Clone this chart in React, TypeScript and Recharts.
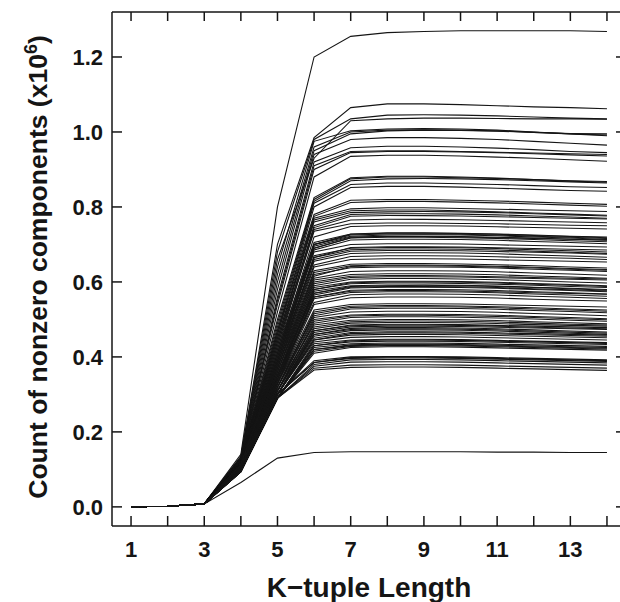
import React from 'react';
import { LineChart, Line, XAxis, YAxis } from 'recharts';

// K-tuple lengths on the x axis
const kLengths = [1, 2, 3, 4, 5, 6, 7, 8, 9, 10, 11, 12, 13, 14];
const xTicks = [1, 2, 3, 4, 5, 6, 7, 8, 9, 10, 11, 12, 13, 14];
const yTicks = [0, 0.2, 0.4, 0.6, 0.8, 1.0, 1.2];

// counts of nonzero components (x10^6), one row per sequence
const outliers = [
  [0.0003, 0.0015, 0.008, 0.14, 0.8, 1.2, 1.255, 1.265, 1.268, 1.27, 1.27, 1.27, 1.27, 1.268],
  [0.0003, 0.0015, 0.008, 0.065, 0.13, 0.145, 0.147, 0.147, 0.147, 0.147, 0.146, 0.146, 0.145, 0.145],
];

const upperBand = [
  [0.0003, 0.0015, 0.008, 0.135, 0.7, 0.985, 1.065, 1.075, 1.075, 1.073, 1.07, 1.067, 1.065, 1.062],
  [0.0003, 0.0015, 0.008, 0.133, 0.68, 0.98, 1.035, 1.045, 1.046, 1.045, 1.043, 1.04, 1.037, 1.035],
  [0.0003, 0.0015, 0.008, 0.132, 0.66, 0.93, 1.03, 1.035, 1.037, 1.037, 1.036, 1.035, 1.035, 1.034],
  [0.0003, 0.0015, 0.008, 0.131, 0.64, 0.975, 1.003, 1.008, 1.009, 1.008, 1.005, 1.0, 0.995, 0.99],
  [0.0003, 0.0015, 0.008, 0.13, 0.62, 0.96, 1.0, 1.005, 1.006, 1.005, 1.003, 0.999, 0.995, 0.992],
  [0.0003, 0.0015, 0.008, 0.129, 0.6, 0.95, 0.995, 1.003, 1.005, 1.004, 1.002, 0.999, 0.996, 0.995],
  [0.0003, 0.0015, 0.008, 0.128, 0.58, 0.94, 0.98, 0.985, 0.985, 0.983, 0.98, 0.975, 0.97, 0.965],
  [0.0003, 0.0015, 0.008, 0.127, 0.56, 0.92, 0.958, 0.962, 0.962, 0.96, 0.957, 0.953, 0.948, 0.945],
  [0.0003, 0.0015, 0.008, 0.126, 0.55, 0.91, 0.948, 0.95, 0.95, 0.948, 0.946, 0.944, 0.942, 0.94],
  [0.0003, 0.0015, 0.008, 0.125, 0.54, 0.9, 0.945, 0.948, 0.948, 0.947, 0.945, 0.942, 0.939, 0.936],
  [0.0003, 0.0015, 0.008, 0.124, 0.52, 0.88, 0.935, 0.938, 0.938, 0.936, 0.933, 0.93, 0.926, 0.922],
  [0.0003, 0.0015, 0.008, 0.124, 0.5, 0.825, 0.878, 0.882, 0.882, 0.88, 0.877, 0.873, 0.869, 0.866],
  [0.0003, 0.0015, 0.008, 0.123, 0.49, 0.82, 0.875, 0.88, 0.88, 0.878, 0.876, 0.873, 0.87, 0.868],
  [0.0003, 0.0015, 0.008, 0.122, 0.48, 0.815, 0.87, 0.875, 0.876, 0.875, 0.873, 0.87, 0.867, 0.864],
  [0.0003, 0.0015, 0.008, 0.121, 0.47, 0.81, 0.86, 0.864, 0.864, 0.862, 0.86, 0.857, 0.854, 0.852],
  [0.0003, 0.0015, 0.008, 0.12, 0.46, 0.8, 0.852, 0.855, 0.855, 0.853, 0.85, 0.847, 0.844, 0.842],
];

const middleBand = [
  [0.0003, 0.0015, 0.008, 0.12, 0.47, 0.78, 0.818, 0.82, 0.82, 0.818, 0.816, 0.813, 0.81, 0.807],
  [0.0003, 0.0015, 0.008, 0.119, 0.46, 0.775, 0.812, 0.815, 0.815, 0.813, 0.811, 0.808, 0.805, 0.802],
  [0.0003, 0.0015, 0.008, 0.119, 0.45, 0.77, 0.795, 0.798, 0.798, 0.796, 0.794, 0.792, 0.79, 0.788],
  [0.0003, 0.0015, 0.008, 0.118, 0.44, 0.765, 0.79, 0.792, 0.792, 0.79, 0.787, 0.784, 0.781, 0.778],
  [0.0003, 0.0015, 0.008, 0.118, 0.45, 0.76, 0.785, 0.787, 0.788, 0.787, 0.785, 0.782, 0.779, 0.776],
  [0.0003, 0.0015, 0.008, 0.117, 0.43, 0.75, 0.78, 0.782, 0.782, 0.781, 0.779, 0.776, 0.773, 0.77],
  [0.0003, 0.0015, 0.008, 0.117, 0.44, 0.745, 0.775, 0.777, 0.777, 0.776, 0.774, 0.772, 0.77, 0.768],
  [0.0003, 0.0015, 0.008, 0.116, 0.42, 0.74, 0.765, 0.767, 0.767, 0.766, 0.764, 0.762, 0.76, 0.758],
  [0.0003, 0.0015, 0.008, 0.116, 0.43, 0.735, 0.755, 0.757, 0.757, 0.756, 0.755, 0.753, 0.751, 0.75],
  [0.0003, 0.0015, 0.008, 0.115, 0.41, 0.72, 0.748, 0.75, 0.75, 0.749, 0.747, 0.745, 0.743, 0.741],
  [0.0003, 0.0015, 0.008, 0.115, 0.42, 0.705, 0.728, 0.731, 0.731, 0.73, 0.728, 0.725, 0.722, 0.72],
  [0.0003, 0.0015, 0.008, 0.114, 0.41, 0.7, 0.725, 0.728, 0.728, 0.727, 0.725, 0.722, 0.719, 0.716],
  [0.0003, 0.0015, 0.008, 0.114, 0.4, 0.7, 0.722, 0.725, 0.726, 0.725, 0.723, 0.72, 0.717, 0.713],
  [0.0003, 0.0015, 0.008, 0.113, 0.41, 0.695, 0.72, 0.722, 0.722, 0.721, 0.719, 0.717, 0.714, 0.711],
  [0.0003, 0.0015, 0.008, 0.113, 0.39, 0.69, 0.717, 0.719, 0.719, 0.718, 0.716, 0.713, 0.71, 0.707],
  [0.0003, 0.0015, 0.008, 0.112, 0.4, 0.685, 0.712, 0.714, 0.714, 0.713, 0.711, 0.708, 0.705, 0.702],
  [0.0003, 0.0015, 0.008, 0.112, 0.39, 0.68, 0.7, 0.702, 0.702, 0.701, 0.699, 0.697, 0.695, 0.693],
  [0.0003, 0.0015, 0.008, 0.111, 0.38, 0.67, 0.69, 0.692, 0.692, 0.691, 0.689, 0.686, 0.683, 0.68],
  [0.0003, 0.0015, 0.008, 0.111, 0.39, 0.665, 0.686, 0.688, 0.688, 0.687, 0.685, 0.682, 0.679, 0.676],
  [0.0003, 0.0015, 0.008, 0.11, 0.38, 0.66, 0.682, 0.684, 0.684, 0.683, 0.681, 0.679, 0.677, 0.674],
  [0.0003, 0.0015, 0.008, 0.11, 0.37, 0.655, 0.676, 0.678, 0.678, 0.677, 0.675, 0.672, 0.669, 0.666],
  [0.0003, 0.0015, 0.008, 0.109, 0.38, 0.645, 0.668, 0.67, 0.67, 0.669, 0.667, 0.665, 0.663, 0.66],
  [0.0003, 0.0015, 0.008, 0.109, 0.37, 0.64, 0.66, 0.662, 0.662, 0.661, 0.659, 0.657, 0.655, 0.653],
  [0.0003, 0.0015, 0.008, 0.108, 0.37, 0.63, 0.647, 0.649, 0.649, 0.648, 0.646, 0.643, 0.64, 0.637],
  [0.0003, 0.0015, 0.008, 0.108, 0.36, 0.625, 0.643, 0.645, 0.645, 0.644, 0.642, 0.639, 0.636, 0.633],
  [0.0003, 0.0015, 0.008, 0.107, 0.37, 0.62, 0.638, 0.64, 0.64, 0.639, 0.637, 0.634, 0.631, 0.628],
  [0.0003, 0.0015, 0.008, 0.107, 0.36, 0.61, 0.628, 0.63, 0.63, 0.629, 0.627, 0.624, 0.621, 0.618],
  [0.0003, 0.0015, 0.008, 0.106, 0.35, 0.605, 0.62, 0.622, 0.622, 0.621, 0.619, 0.616, 0.613, 0.61],
  [0.0003, 0.0015, 0.008, 0.106, 0.36, 0.6, 0.615, 0.617, 0.617, 0.616, 0.614, 0.612, 0.61, 0.608],
  [0.0003, 0.0015, 0.008, 0.105, 0.35, 0.59, 0.607, 0.609, 0.609, 0.608, 0.606, 0.603, 0.6, 0.597],
  [0.0003, 0.0015, 0.008, 0.105, 0.34, 0.585, 0.6, 0.602, 0.602, 0.601, 0.599, 0.596, 0.593, 0.59],
  [0.0003, 0.0015, 0.008, 0.104, 0.35, 0.58, 0.595, 0.597, 0.597, 0.596, 0.594, 0.591, 0.588, 0.585],
  [0.0003, 0.0015, 0.008, 0.104, 0.34, 0.575, 0.59, 0.592, 0.592, 0.591, 0.589, 0.586, 0.583, 0.58],
  [0.0003, 0.0015, 0.008, 0.103, 0.35, 0.57, 0.588, 0.59, 0.591, 0.59, 0.588, 0.585, 0.582, 0.578],
  [0.0003, 0.0015, 0.008, 0.103, 0.33, 0.565, 0.584, 0.586, 0.586, 0.585, 0.583, 0.58, 0.577, 0.574],
  [0.0003, 0.0015, 0.008, 0.102, 0.34, 0.56, 0.578, 0.58, 0.58, 0.579, 0.577, 0.574, 0.571, 0.568],
  [0.0003, 0.0015, 0.008, 0.102, 0.33, 0.555, 0.572, 0.574, 0.574, 0.573, 0.571, 0.568, 0.565, 0.562],
  [0.0003, 0.0015, 0.008, 0.101, 0.34, 0.545, 0.566, 0.568, 0.568, 0.567, 0.565, 0.562, 0.559, 0.556],
  [0.0003, 0.0015, 0.008, 0.101, 0.33, 0.54, 0.558, 0.56, 0.56, 0.559, 0.557, 0.554, 0.551, 0.549],
];

const lowerBand = [
  [0.0003, 0.0015, 0.008, 0.1, 0.33, 0.525, 0.54, 0.542, 0.542, 0.541, 0.539, 0.537, 0.535, 0.533],
  [0.0003, 0.0015, 0.008, 0.1, 0.32, 0.52, 0.535, 0.537, 0.537, 0.536, 0.534, 0.531, 0.528, 0.525],
  [0.0003, 0.0015, 0.008, 0.099, 0.33, 0.51, 0.528, 0.53, 0.53, 0.529, 0.527, 0.524, 0.521, 0.518],
  [0.0003, 0.0015, 0.008, 0.099, 0.32, 0.505, 0.52, 0.522, 0.522, 0.521, 0.519, 0.516, 0.513, 0.51],
  [0.0003, 0.0015, 0.008, 0.098, 0.32, 0.5, 0.512, 0.514, 0.514, 0.513, 0.511, 0.508, 0.505, 0.502],
  [0.0003, 0.0015, 0.008, 0.098, 0.31, 0.49, 0.505, 0.507, 0.507, 0.506, 0.504, 0.501, 0.498, 0.495],
  [0.0003, 0.0015, 0.008, 0.098, 0.32, 0.485, 0.498, 0.5, 0.5, 0.499, 0.497, 0.494, 0.491, 0.488],
  [0.0003, 0.0015, 0.008, 0.097, 0.31, 0.475, 0.49, 0.492, 0.492, 0.491, 0.489, 0.486, 0.484, 0.482],
  [0.0003, 0.0015, 0.008, 0.097, 0.31, 0.47, 0.485, 0.487, 0.487, 0.486, 0.484, 0.482, 0.48, 0.478],
  [0.0003, 0.0015, 0.008, 0.097, 0.3, 0.465, 0.48, 0.482, 0.482, 0.481, 0.479, 0.477, 0.475, 0.473],
  [0.0003, 0.0015, 0.008, 0.096, 0.31, 0.46, 0.476, 0.478, 0.478, 0.477, 0.475, 0.472, 0.469, 0.466],
  [0.0003, 0.0015, 0.008, 0.096, 0.3, 0.455, 0.47, 0.472, 0.472, 0.471, 0.469, 0.466, 0.463, 0.46],
  [0.0003, 0.0015, 0.008, 0.096, 0.3, 0.45, 0.465, 0.467, 0.467, 0.466, 0.464, 0.462, 0.46, 0.458],
  [0.0003, 0.0015, 0.008, 0.096, 0.3, 0.445, 0.458, 0.46, 0.46, 0.459, 0.457, 0.455, 0.453, 0.451],
  [0.0003, 0.0015, 0.008, 0.095, 0.3, 0.44, 0.452, 0.454, 0.454, 0.453, 0.451, 0.449, 0.447, 0.445],
  [0.0003, 0.0015, 0.008, 0.095, 0.29, 0.435, 0.445, 0.447, 0.447, 0.446, 0.444, 0.442, 0.44, 0.438],
  [0.0003, 0.0015, 0.008, 0.095, 0.29, 0.43, 0.44, 0.442, 0.442, 0.441, 0.439, 0.437, 0.435, 0.433],
  [0.0003, 0.0015, 0.008, 0.095, 0.29, 0.425, 0.435, 0.437, 0.437, 0.436, 0.434, 0.432, 0.43, 0.428],
  [0.0003, 0.0015, 0.008, 0.095, 0.29, 0.42, 0.432, 0.434, 0.434, 0.433, 0.431, 0.429, 0.427, 0.425],
  [0.0003, 0.0015, 0.008, 0.095, 0.29, 0.415, 0.428, 0.43, 0.43, 0.429, 0.427, 0.425, 0.423, 0.421],
  [0.0003, 0.0015, 0.008, 0.094, 0.29, 0.41, 0.425, 0.427, 0.427, 0.426, 0.424, 0.422, 0.42, 0.418],
  [0.0003, 0.0015, 0.008, 0.094, 0.3, 0.39, 0.4, 0.401, 0.401, 0.4, 0.398, 0.396, 0.394, 0.392],
  [0.0003, 0.0015, 0.008, 0.094, 0.3, 0.385, 0.396, 0.397, 0.397, 0.396, 0.394, 0.392, 0.39, 0.388],
  [0.0003, 0.0015, 0.008, 0.094, 0.29, 0.38, 0.392, 0.393, 0.393, 0.392, 0.39, 0.388, 0.386, 0.384],
  [0.0003, 0.0015, 0.008, 0.094, 0.29, 0.375, 0.386, 0.387, 0.387, 0.386, 0.384, 0.382, 0.38, 0.378],
  [0.0003, 0.0015, 0.008, 0.094, 0.29, 0.37, 0.378, 0.379, 0.379, 0.378, 0.376, 0.374, 0.372, 0.37],
  [0.0003, 0.0015, 0.008, 0.094, 0.29, 0.365, 0.372, 0.373, 0.373, 0.372, 0.37, 0.368, 0.366, 0.364],
];

// extra sequences filling the darkest bands
const denseBand = [
  [0.0003, 0.0015, 0.008, 0.113, 0.4, 0.7, 0.727, 0.73, 0.73, 0.729, 0.727, 0.724, 0.721, 0.718],
  [0.0003, 0.0015, 0.008, 0.112, 0.39, 0.69, 0.718, 0.721, 0.721, 0.72, 0.718, 0.716, 0.714, 0.712],
  [0.0003, 0.0015, 0.008, 0.11, 0.38, 0.665, 0.692, 0.694, 0.694, 0.693, 0.691, 0.689, 0.687, 0.685],
  [0.0003, 0.0015, 0.008, 0.107, 0.36, 0.615, 0.641, 0.643, 0.643, 0.642, 0.64, 0.637, 0.634, 0.631],
  [0.0003, 0.0015, 0.008, 0.105, 0.35, 0.595, 0.612, 0.614, 0.614, 0.613, 0.611, 0.609, 0.607, 0.605],
  [0.0003, 0.0015, 0.008, 0.104, 0.34, 0.58, 0.598, 0.6, 0.6, 0.599, 0.597, 0.594, 0.591, 0.588],
  [0.0003, 0.0015, 0.008, 0.103, 0.34, 0.57, 0.586, 0.588, 0.588, 0.587, 0.585, 0.582, 0.579, 0.576],
  [0.0003, 0.0015, 0.008, 0.102, 0.33, 0.56, 0.575, 0.577, 0.577, 0.576, 0.574, 0.571, 0.569, 0.567],
  [0.0003, 0.0015, 0.008, 0.1, 0.32, 0.515, 0.532, 0.534, 0.534, 0.533, 0.531, 0.528, 0.525, 0.522],
  [0.0003, 0.0015, 0.008, 0.098, 0.31, 0.495, 0.509, 0.511, 0.511, 0.51, 0.508, 0.505, 0.502, 0.499],
  [0.0003, 0.0015, 0.008, 0.097, 0.31, 0.48, 0.494, 0.496, 0.496, 0.495, 0.493, 0.49, 0.487, 0.485],
  [0.0003, 0.0015, 0.008, 0.096, 0.3, 0.47, 0.483, 0.485, 0.485, 0.484, 0.482, 0.479, 0.477, 0.475],
  [0.0003, 0.0015, 0.008, 0.096, 0.3, 0.46, 0.473, 0.475, 0.475, 0.474, 0.472, 0.469, 0.466, 0.463],
  [0.0003, 0.0015, 0.008, 0.095, 0.3, 0.445, 0.462, 0.464, 0.464, 0.463, 0.461, 0.459, 0.457, 0.455],
  [0.0003, 0.0015, 0.008, 0.095, 0.29, 0.43, 0.443, 0.445, 0.445, 0.444, 0.442, 0.44, 0.438, 0.436],
  [0.0003, 0.0015, 0.008, 0.094, 0.29, 0.42, 0.43, 0.432, 0.432, 0.431, 0.429, 0.427, 0.425, 0.423],
  [0.0003, 0.0015, 0.008, 0.094, 0.3, 0.385, 0.398, 0.399, 0.399, 0.398, 0.396, 0.394, 0.392, 0.39],
];

const series = [...outliers, ...upperBand, ...middleBand, ...lowerBand, ...denseBand];

const chartData = kLengths.map((k, i) => {
  const row: Record<string, number> = { k };
  series.forEach((s, j) => {
    row['s' + j] = s[i];
  });
  return row;
});

const INK = '#151515';
const FONT = '"Liberation Sans", Arial, Helvetica, sans-serif';
const tickStyle = { fill: INK, fontSize: 22, fontWeight: 700, fontFamily: FONT };

const XTitle = ({ viewBox }: any) => (
  <text
    x={viewBox.x + viewBox.width / 2}
    y={viewBox.y + 71}
    textAnchor="middle"
    fill={INK}
    fontSize={28}
    fontWeight={700}
    fontFamily={FONT}
  >
    K{'\u2212'}tuple Length
  </text>
);

const YTitle = ({ viewBox }: any) => {
  const cx = 47;
  const cy = viewBox.y + viewBox.height / 2 - 2;
  return (
    <text
      x={cx}
      y={cy}
      transform={`rotate(-90, ${cx}, ${cy})`}
      textAnchor="middle"
      fill={INK}
      fontSize={26.5}
      fontWeight={700}
      fontFamily={FONT}
    >
      Count of nonzero components (x10
      <tspan dy={-10} fontSize={18}>6</tspan>
      <tspan dy={10}>)</tspan>
    </text>
  );
};

export default function App() {
  return (
    <div style={{ position: 'absolute', left: 0, top: 0, width: 620, height: 602, overflow: 'hidden', background: '#fff' }}>
      <LineChart width={640} height={602} data={chartData} margin={{ top: 0, right: 0, bottom: 0, left: 0 }}>
        <XAxis
          xAxisId="b"
          dataKey="k"
          type="number"
          domain={[0.48, 14.52]}
          ticks={xTicks}
          allowDataOverflow
          orientation="bottom"
          height={76}
          tickSize={-10}
          tickMargin={25}
          tickFormatter={(v: number) => (v % 2 === 1 ? String(v) : '')}
          tick={tickStyle}
          stroke={INK}
          strokeWidth={1.5}
          interval={0}
          label={<XTitle />}
        />
        <XAxis
          xAxisId="t"
          dataKey="k"
          type="number"
          domain={[0.48, 14.52]}
          ticks={xTicks}
          allowDataOverflow
          orientation="top"
          height={12}
          tickSize={-9}
          tickFormatter={() => ''}
          stroke={INK}
          strokeWidth={1.5}
          interval={0}
        />
        <YAxis
          yAxisId="l"
          type="number"
          domain={[-0.051, 1.32]}
          ticks={yTicks}
          allowDataOverflow
          orientation="left"
          width={112}
          tickSize={-10}
          tickMargin={19}
          tickFormatter={(v: number) => v.toFixed(1)}
          tick={tickStyle}
          stroke={INK}
          strokeWidth={1.5}
          interval={0}
          label={<YTitle />}
        />
        <YAxis
          yAxisId="r"
          type="number"
          domain={[-0.051, 1.32]}
          ticks={yTicks}
          allowDataOverflow
          orientation="right"
          width={14}
          tickSize={-10}
          tickFormatter={() => ''}
          stroke={INK}
          strokeWidth={1.5}
          interval={0}
        />
        {series.map((_, j) => (
          <Line
            key={j}
            xAxisId="b"
            yAxisId="l"
            type="linear"
            dataKey={'s' + j}
            stroke={INK}
            strokeWidth={1.1}
            dot={false}
            activeDot={false}
            isAnimationActive={false}
          />
        ))}
      </LineChart>
    </div>
  );
}
